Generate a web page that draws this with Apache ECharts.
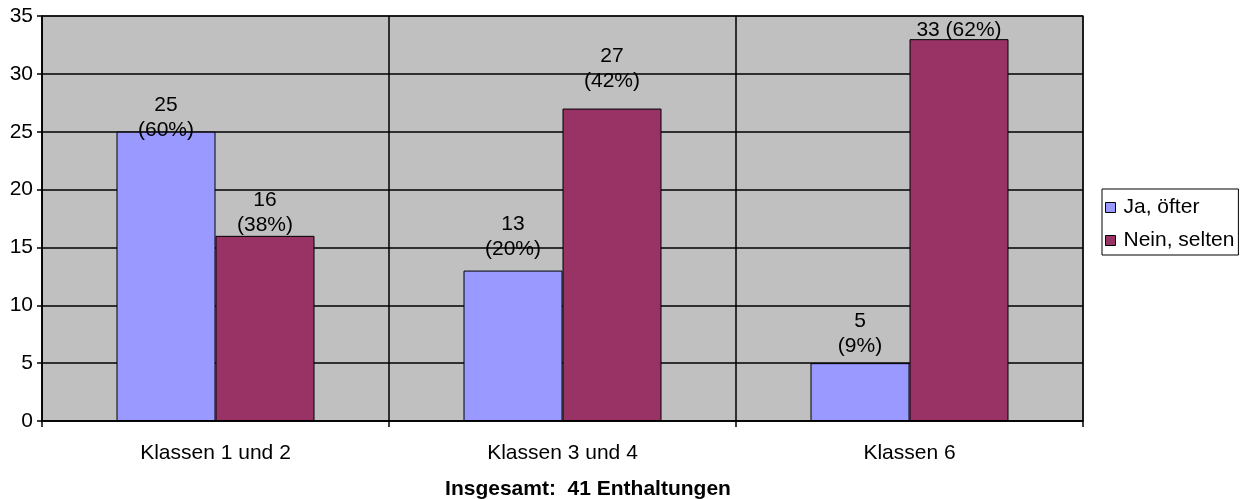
<!DOCTYPE html>
<html>
<head>
<meta charset="utf-8">
<title>Klassen</title>
<script src="https://cdn.jsdelivr.net/npm/echarts@6/dist/echarts.min.js"></script>
<style>
  html, body { margin: 0; padding: 0; background: #fff; }
  #chart { width: 1242px; height: 499px; }
</style>
</head>
<body>
<div id="chart"></div>
<script>
// data
const categories = ['Klassen 1 und 2', 'Klassen 3 und 4', 'Klassen 6'];
const jaValues = [25, 13, 5];
const jaPercents = ['60%', '20%', '9%'];
const neinValues = [16, 27, 33];
const neinPercents = ['38%', '42%', '62%'];
const seriesNames = ['Ja, öfter', 'Nein, selten'];
const titleText = 'Insgesamt:  41 Enthaltungen';

const FONT = "'Liberation Sans', Arial, sans-serif";

// label nudges (excel had them placed by hand)
const jaLabelDist = [-11, 9, 4];
const neinLabelDist = [-2, 15, -4];

const chart = echarts.init(document.getElementById('chart'));

const buildData = (values, percents, dists) =>
  values.map((v, i) => ({
    value: v,
    label: {
      distance: dists[i],
      // near the top Excel put it on one line
      formatter: v > 30 ? v + ' (' + percents[i] + ')' : v + '\n(' + percents[i] + ')',
    },
  }));

const barLabel = {
  show: true,
  position: 'top',
  color: '#000',
  fontFamily: FONT,
  fontSize: 21,
  lineHeight: 25,
};

const option = {
  animation: false,
  title: {
    text: titleText,
    left: 588,
    top: 479,
    textAlign: 'center',
    padding: 0,
    textStyle: {
      fontFamily: FONT,
      fontSize: 21,
      fontWeight: 'bold',
      color: '#000',
    },
  },
  legend: {
    orient: 'vertical',
    left: 1102,
    top: 189,
    padding: [8, 4, 4, 3],
    itemGap: 12,
    itemWidth: 10,
    itemHeight: 10,
    icon: 'rect',
    borderColor: '#000',
    borderWidth: 1,
    data: seriesNames,
    itemStyle: {
      borderColor: '#000',
      borderWidth: 1,
    },
    textStyle: {
      fontFamily: FONT,
      fontSize: 21,
      lineHeight: 21,
      color: '#000',
      padding: [0, 0, 0, 3],
    },
  },
  grid: {
    left: 42,
    right: 159,
    top: 16,
    bottom: 78,
    show: true,
    backgroundColor: '#C0C0C0',
    borderColor: '#555',
    borderWidth: 1.5,
  },
  xAxis: {
    type: 'category',
    data: categories,
    boundaryGap: true,
    axisLine: { lineStyle: { color: '#000', width: 1.5 } },
    axisTick: { show: true, length: 6, lineStyle: { color: '#000', width: 1.5 } },
    splitLine: { show: true, lineStyle: { color: '#000', width: 1.5 } },
    axisLabel: {
      margin: 22,
      color: '#000',
      fontFamily: FONT,
      fontSize: 21,
    },
  },
  yAxis: {
    type: 'value',
    min: 0,
    max: 35,
    interval: 5,
    axisLine: { show: true, lineStyle: { color: '#000', width: 1.5 } },
    axisTick: { show: true, length: 5, lineStyle: { color: '#000', width: 1.5 } },
    splitLine: { show: true, lineStyle: { color: '#000', width: 1.5 } },
    axisLabel: {
      margin: 9,
      color: '#000',
      fontFamily: FONT,
      fontSize: 21,
    },
  },
  series: [
    {
      name: seriesNames[0],
      type: 'bar',
      barWidth: 99,
      barGap: '0%',
      itemStyle: { color: '#9999FF', borderColor: '#000', borderWidth: 1 },
      label: barLabel,
      data: buildData(jaValues, jaPercents, jaLabelDist),
    },
    {
      name: seriesNames[1],
      type: 'bar',
      barWidth: 99,
      barGap: '0%',
      itemStyle: { color: '#993366', borderColor: '#000', borderWidth: 1 },
      label: barLabel,
      data: buildData(neinValues, neinPercents, neinLabelDist),
    },
  ],
};

chart.setOption(option);
</script>
</body>
</html>
